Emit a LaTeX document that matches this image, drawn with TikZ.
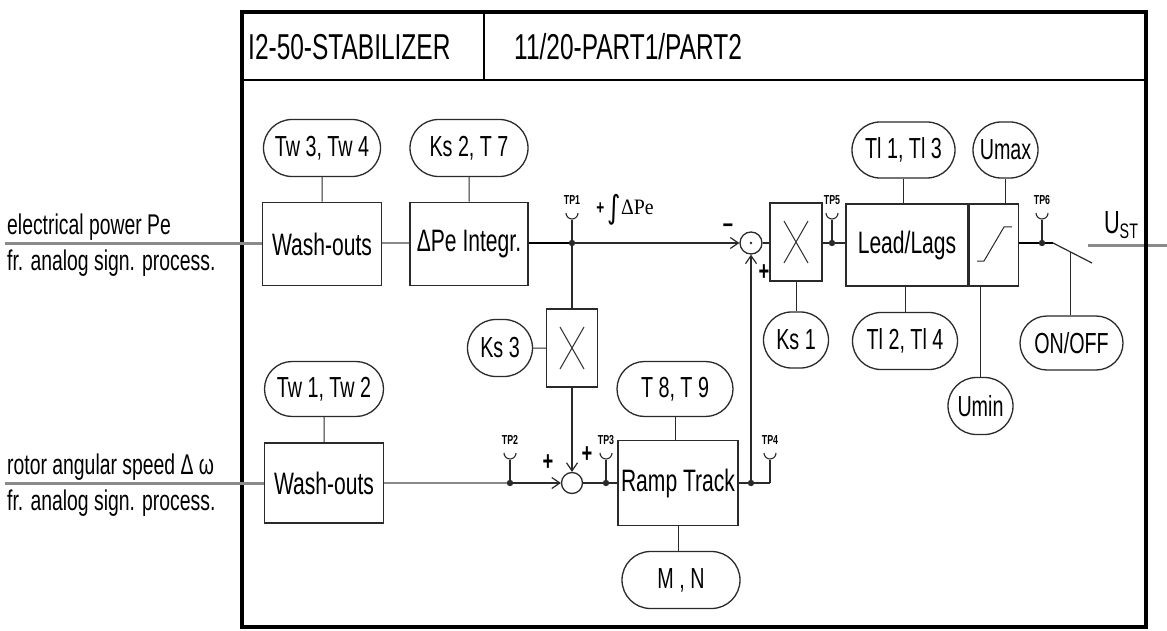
\documentclass[tikz,border=0pt]{standalone}
\usepackage{fontspec}
\setmainfont[FakeStretch=0.68]{Liberation Sans}
\newfontfamily\pefont[FakeStretch=0.9]{Liberation Serif}
\newfontfamily\intfont[FakeStretch=0.8]{DejaVu Sans}
\usetikzlibrary{shapes.misc,arrows.meta,positioning}
\definecolor{linegray}{HTML}{8A8A8A}
\definecolor{boxblack}{HTML}{2A2A2A}
\newcommand{\fsz}[1]{\fontsize{#1}{#1}\selectfont}
% test point: cup with stem above a signal point
\newcommand{\tpcup}[2]{%
	\draw[tpline] (#1) -- ++(0,-23);
	\draw[tpline] (#1) ++(-6,-30) arc[start angle=180,end angle=0,radius=6];
	\path (#1) ++(0,-43) node[tplabel] (#1lab) {#2};
}
\newcommand{\tpdot}[1]{\fill[boxblack] (#1) circle[radius=3.2];}

\begin{document}
\begin{tikzpicture}[x=1pt,y=-1pt,
	blockbox/.style={draw=boxblack,line width=1.5pt,fill=white,inner sep=0pt,font=\fsz{31}},
	param/.style={rounded rectangle,draw=boxblack,line width=1.3pt,fill=white,inner sep=0pt,font=\fsz{29}},
	sumnode/.style={circle,draw=boxblack,line width=1.3pt,fill=white,minimum size=22pt,inner sep=0pt},
	sig/.style={draw=boxblack,line width=1.2pt},
	heavy/.style={draw=black,line width=2.2pt},
	feed/.style={draw=linegray,line width=3pt},
	tie/.style={draw=boxblack,line width=1pt},
	into/.style={sig,-{Straight Barb[length=8pt,width=11pt]}},
	tpline/.style={draw=boxblack,line width=1.1pt},
	tplabel/.style={font=\bfseries\fsz{13},inner sep=0pt},
	sign/.style={font=\bfseries\fsz{27},inner sep=0pt},
	inlabel/.style={font=\fsz{28.5},inner sep=0pt,anchor=base west},
	headtext/.style={font=\fsz{36},inner sep=0pt,anchor=base west}]
	\path[use as bounding box] (0,0) rectangle (1167,631);
	\fill[white] (0,0) rectangle (1167,631);

	% Output line runs through the frame.
	\coordinate (ust0) at (1088,245);
	\coordinate (ust1) at (1167,245);
	\draw[feed] (ust0) -- (ust1);

	% Frame and header.
	\draw[black,line width=3.5pt] (242,12) rectangle (1146,627);
	\draw[black,line width=1.6pt] (242,80) -- (1146,80);
	\draw[black,line width=1.2pt] (484,12) -- (484,80);
	\node[headtext] (title) at (248,60) {I2-50-STABILIZER};
	\node[headtext] (part) at (514,60) {11/20-PART1/PART2};

	% Input signals.
	\node[inlabel] (pe) at (7,234) {electrical power Pe};
	\node[inlabel] (pesrc) at (7,270) {fr. analog sign. process.};
	\node[inlabel] (om) at (7,474) {rotor angular speed Δ ω};
	\node[inlabel] (omsrc) at (7,510) {fr. analog sign. process.};

	% Blocks of the power path.
	\node[blockbox,minimum width=119pt,minimum height=83pt] (wash1) at (322,244) {Wash-outs};
	\node[blockbox,minimum width=118pt,minimum height=83pt] (integr) at (469,244) {ΔPe Integr.};
	\node[param,minimum width=117pt,minimum height=57pt] (tw34) at (322,148) {Tw 3, Tw 4};
	\node[param,minimum width=118pt,minimum height=57pt] (ks2t7) at (469,148) {Ks 2, T 7};
	\node[sumnode] (sum1) at (751,243) {};
	\fill[boxblack] (sum1) circle[radius=1.3];
	\node[blockbox,minimum width=52pt,minimum height=78pt] (mul1) at (796,242) {};
	\draw[tie,shift={(mul1.center)}] (-12,-21) -- (12,21) (-12,21) -- (12,-21);
	\node[param,minimum width=65pt,minimum height=56pt] (ks1) at (796,340) {Ks 1};
	\node[blockbox,minimum width=122pt,minimum height=82pt] (leadlag) at (907,245) {Lead/Lags};
	\node[blockbox,minimum width=49pt,minimum height=82pt,anchor=west] (limit) at (leadlag.east) {};
	\draw[tie,shift={(limit.center)}] (-17,16) -- (-10,16) -- (10,-18) -- (18,-18);
	\node[param,minimum width=103pt,minimum height=56pt] (tl13) at (903.5,150) {Tl 1, Tl 3};
	\node[param,minimum width=65pt,minimum height=56pt] (umax) at (1005.5,150) {Umax};
	\node[param,minimum width=105pt,minimum height=57pt] (tl24) at (905,341) {Tl 2, Tl 4};
	\node[param,minimum width=65pt,minimum height=57pt] (umin) at (980.5,406) {Umin};
	\node[param,minimum width=103pt,minimum height=54pt] (onoff) at (1071.5,343) {ON/OFF};

	% Blocks of the speed path.
	\node[blockbox,minimum width=119pt,minimum height=80pt] (wash2) at (324,483) {Wash-outs};
	\node[param,minimum width=119pt,minimum height=55pt] (tw12) at (324,389) {Tw 1, Tw 2};
	\node[blockbox,minimum width=51pt,minimum height=78pt] (mul2) at (572,348) {};
	\draw[tie,shift={(mul2.center)}] (-12,-21) -- (12,21) (-12,21) -- (12,-21);
	\node[param,minimum width=65pt,minimum height=57pt] (ks3) at (500,348) {Ks 3};
	\node[sumnode,minimum size=21pt] (sum2) at (572,483) {};
	\node[blockbox,minimum width=120pt,minimum height=85pt] (ramp) at (678,483) {Ramp Track};
	\node[param,minimum width=116pt,minimum height=55pt] (t89) at (675,389) {T 8, T 9};
	\node[param,minimum width=118pt,minimum height=57pt] (mn) at (681,580) {M , N};

	% Parameter ties.
	\draw[tie] (tw34) -- (wash1);
	\draw[tie] (ks2t7) -- (integr);
	\draw[tie] (mul1) -- (ks1);
	\draw[tie] (tl13.south) -- (tl13.south |- leadlag.north);
	\draw[tie] (umax.south) -- (umax.south |- limit.north);
	\draw[tie] (tl24.north) -- (tl24.north |- leadlag.south);
	\draw[tie] (umin.north) -- (umin.north |- limit.south);
	\draw[tie] (tw12) -- (wash2);
	\draw[tie] (ks3) -- (mul2);
	\draw[tie] (t89.south) -- (t89.south |- ramp.north);
	\draw[tie] (ramp.south) -- (ramp.south |- mn.north);

	% Power path signals.
	\coordinate (in1) at (5,243);
	\coordinate (tp1) at (572,243);
	\coordinate (tp5) at (832,243);
	\coordinate (tp6) at (1042,243);
	\coordinate (sw0) at (1053,243);
	\coordinate (sw1) at (1092,263);
	\coordinate (swc) at (1070,252);
	\draw[feed] (in1) -- (in1 -| wash1.west);
	\draw[feed,line width=2.4pt] (wash1.east |- in1) -- (integr.west |- in1);
	\draw[heavy] (integr.east |- tp1) -- (tp1);
	\draw[into] (tp1) -- (sum1.west);
	\draw[sig] (sum1.east) -- (sum1.east -| mul1.west);
	\draw[sig] (mul1.east |- tp5) -- (tp5) -- (tp5 -| leadlag.west);
	\draw[heavy] (limit.east |- tp6) -- (tp6) -- (sw0);
	\draw[sig] (sw0) -- (sw1);
	\draw[tie] (swc) -- (swc |- onoff.north);
	\draw[sig] (tp1) -- (mul2.north);
	\draw[into] (mul2.south) -- (sum2.north);

	% Speed path signals.
	\coordinate (in2) at (5,483);
	\coordinate (tp2) at (510,483);
	\coordinate (tp3) at (606,483);
	\coordinate (tp4j) at (751,483);
	\coordinate (tp4) at (770,483);
	\draw[feed] (in2) -- (in2 -| wash2.west);
	\draw[feed,line width=2.4pt] (wash2.east |- in2) -- (tp2);
	\draw[into] (tp2) -- (sum2.west);
	\draw[sig] (sum2.east) -- (tp3) -- (tp3 -| ramp.west);
	\draw[sig] (ramp.east |- tp4j) -- (tp4j) -- (tp4);
	\draw[into] (tp4j) -- (sum1.south);

	% Test points.
	\tpdot{tp1} \tpcup{tp1}{TP1}
	\tpdot{tp2} \tpcup{tp2}{TP2}
	\tpdot{tp3} \tpcup{tp3}{TP3}
	\tpdot{tp4j} \tpcup{tp4}{TP4}
	\tpdot{tp5} \tpcup{tp5}{TP5}
	\tpdot{tp6} \tpcup{tp6}{TP6}

	% Signs and labels.
	\node[sign] (minus1) at (728,228) {–};
	\node[sign] (plus1) at (764,273) {+};
	\node[sign] (plus2) at (548,463) {+};
	\node[sign] (plus3) at (587,455) {+};
	\node[inner sep=0pt] (intpe) at (625,210)
		{\fsz{20}\textbf{+}\,\raisebox{-4pt}{\intfont\fsz{32}∫}\pefont\fsz{22}ΔPe};
	\node[inner sep=0pt] (ust) at (1121,225) {\fsz{32}U\raisebox{-5pt}{\fsz{21}ST}};
\end{tikzpicture}
\end{document}
